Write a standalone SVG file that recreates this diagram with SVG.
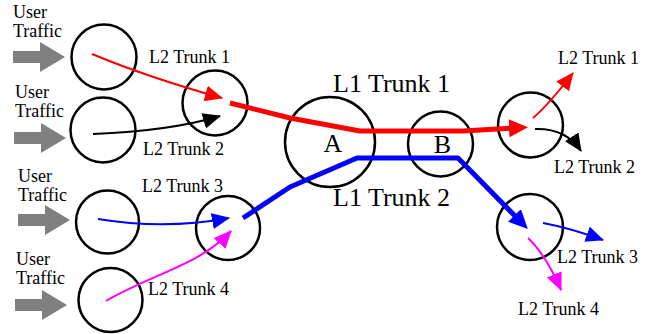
<svg xmlns="http://www.w3.org/2000/svg" width="653" height="334" viewBox="0 0 653 334">
  <style>
    .node { fill: none; stroke: #000; stroke-width: 2.5; }
    .txt { font-family: 'Liberation Serif', 'Times New Roman', Times, 'DejaVu Serif', serif; fill: #000; }
    .s18 { font-size: 18px; }
    .s26 { font-size: 26px; }
    .thin { fill: none; stroke-width: 2; }
    .thick { fill: none; stroke-width: 5; stroke-linejoin: round; }
    .feed { fill: #808080; }
  </style>
  <defs>
    <!-- block arrow for incoming user traffic -->
    <path id="feedArrow" d="M0,-6 H27 V-15 L52,0 L27,15 V6 H0 Z"/>
    <marker id="hRed" markerUnits="userSpaceOnUse" markerWidth="18" markerHeight="18" refX="17" refY="8" orient="auto">
      <path d="M0,0 L18,8 L0,16 Z" fill="#ff0000"/>
    </marker>
    <marker id="hBlack" markerUnits="userSpaceOnUse" markerWidth="18" markerHeight="18" refX="17" refY="8" orient="auto">
      <path d="M0,0 L18,8 L0,16 Z" fill="#000"/>
    </marker>
    <marker id="hBlue" markerUnits="userSpaceOnUse" markerWidth="18" markerHeight="18" refX="17" refY="8" orient="auto">
      <path d="M0,0 L18,8 L0,16 Z" fill="#0000ff"/>
    </marker>
    <marker id="hMagenta" markerUnits="userSpaceOnUse" markerWidth="18" markerHeight="18" refX="17" refY="8" orient="auto">
      <path d="M0,0 L18,8 L0,16 Z" fill="#ff00ff"/>
    </marker>
    <marker id="hRedBig" markerUnits="userSpaceOnUse" markerWidth="20" markerHeight="20" refX="5" refY="9" orient="auto">
      <path d="M0,0 L19,9 L0,18 Z" fill="#ff0000"/>
    </marker>
    <marker id="hBlueBig" markerUnits="userSpaceOnUse" markerWidth="20" markerHeight="20" refX="5" refY="9" orient="auto">
      <path d="M0,0 L19,9 L0,18 Z" fill="#0000ff"/>
    </marker>
  </defs>

  <!-- user traffic sources -->
  <g id="traffic">
    <use href="#feedArrow" class="feed" x="13" y="57"/>
    <use href="#feedArrow" class="feed" x="14" y="138"/>
    <use href="#feedArrow" class="feed" x="18" y="220"/>
    <use href="#feedArrow" class="feed" x="15" y="305"/>
    <text class="txt s18" x="13" y="18">User</text>
    <text class="txt s18" x="13" y="36.5">Traffic</text>
    <text class="txt s18" x="15" y="98">User</text>
    <text class="txt s18" x="15" y="116.5">Traffic</text>
    <text class="txt s18" x="18" y="181.5">User</text>
    <text class="txt s18" x="18" y="200.5">Traffic</text>
    <text class="txt s18" x="16" y="265">User</text>
    <text class="txt s18" x="16" y="284">Traffic</text>
  </g>

  <!-- ingress nodes -->
  <g id="in1"><circle class="node" cx="104" cy="57" r="32.5"/></g>
  <g id="in2"><circle class="node" cx="103" cy="130" r="32.5"/></g>
  <g id="in3"><circle class="node" cx="107.5" cy="222" r="31.5"/></g>
  <g id="in4"><circle class="node" cx="110.5" cy="300" r="32"/></g>

  <!-- aggregation nodes -->
  <g id="agg12"><circle class="node" cx="215" cy="103" r="32.5"/></g>
  <g id="agg34"><circle class="node" cx="228" cy="228" r="32"/></g>

  <!-- L1 nodes -->
  <g id="nodeA">
    <circle class="node" cx="330" cy="142" r="45"/>
    <text class="txt s26" x="333" y="152" text-anchor="middle">A</text>
  </g>
  <g id="nodeB">
    <circle class="node" cx="440.5" cy="144" r="32.5"/>
    <text class="txt s26" x="442.5" y="153" text-anchor="middle">B</text>
  </g>

  <!-- egress nodes -->
  <g id="out12"><circle class="node" cx="530.5" cy="125" r="32.5"/></g>
  <g id="out34"><circle class="node" cx="530" cy="227" r="33"/></g>

  <!-- connectors -->
  <g id="connectors">
    <path class="thin" stroke="#ff0000" d="M92,54 Q150,78 222,98" marker-end="url(#hRed)"/>
    <path class="thin" stroke="#000" d="M93,134 Q170,131 220,116" marker-end="url(#hBlack)"/>
    <path class="thin" stroke="#0000ff" d="M98,219 Q165,230 229,218" marker-end="url(#hBlue)"/>
    <path class="thin" stroke="#ff00ff" d="M106,301 C150,275 200,265 231,231" marker-end="url(#hMagenta)"/>

    <path class="thick" stroke="#ff0000" d="M230,103 L290,118 L360,131 L463,131 L514,128" marker-end="url(#hRedBig)"/>
    <path class="thick" stroke="#0000ff" d="M243,218 L290,187 L357,158 L458,158 L518,219" marker-end="url(#hBlueBig)"/>

    <path class="thin" stroke="#ff0000" d="M533,118 C545,108 556,95 573,73" marker-end="url(#hRed)"/>
    <path class="thin" stroke="#000" d="M535,129 Q566,128 581,151" marker-end="url(#hBlack)"/>
    <path class="thin" stroke="#0000ff" d="M543,223 Q570,228 603,240" marker-end="url(#hBlue)"/>
    <path class="thin" stroke="#ff00ff" d="M528,238 Q546,255 561,290" marker-end="url(#hMagenta)"/>
  </g>

  <!-- trunk labels -->
  <g id="labels">
    <text class="txt s18" x="149" y="63">L2 Trunk 1</text>
    <text class="txt s18" x="143" y="155">L2 Trunk 2</text>
    <text class="txt s18" x="142" y="191.5">L2 Trunk 3</text>
    <text class="txt s18" x="148" y="295">L2 Trunk 4</text>
    <text class="txt s26" x="333" y="92">L1 Trunk 1</text>
    <text class="txt s26" x="333" y="206">L1 Trunk 2</text>
    <text class="txt s18" x="558" y="64">L2 Trunk 1</text>
    <text class="txt s18" x="554" y="173">L2 Trunk 2</text>
    <text class="txt s18" x="557" y="263">L2 Trunk 3</text>
    <text class="txt s18" x="518" y="315">L2 Trunk 4</text>
  </g>
</svg>
